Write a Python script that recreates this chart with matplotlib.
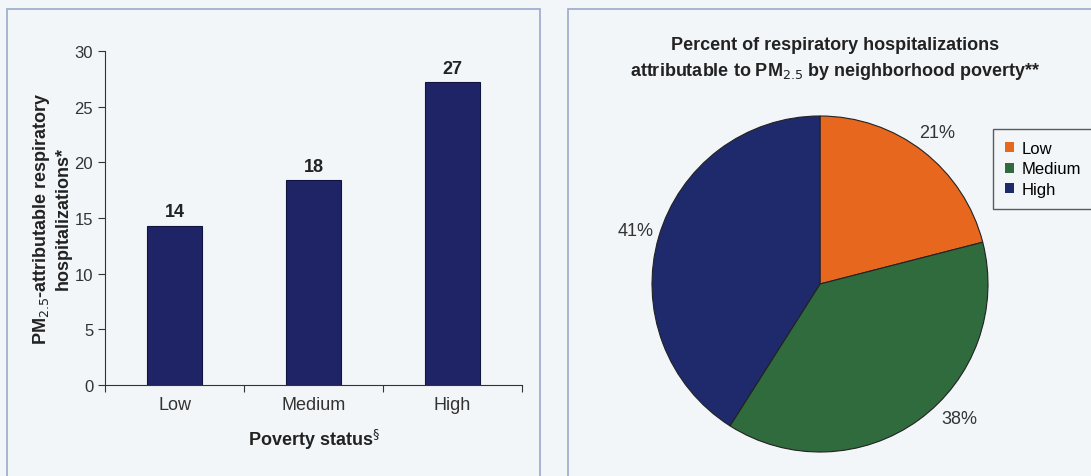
import numpy as np
import matplotlib.pyplot as plt
from matplotlib.patches import Rectangle

plt.rcParams['font.family'] = ['Liberation Sans', 'DejaVu Sans']

# data
categories = ['Low', 'Medium', 'High']
hosp = [14.3, 18.4, 27.2]
hosp_labels = ['14', '18', '27']
pie_share = [21, 38, 41]
pie_colors = ['#e8671e', '#2f6b3c', '#1e2a6b']
bar_color = '#1f2466'

bg = '#f3f6f9'
frame = '#9aa8cc'

fig = plt.figure(figsize=(10.91, 4.77), dpi=100)
fig.patch.set_facecolor(bg)

W, H = 1091, 477
def fx(px):
    return px / W
def fy(py):
    return 1 - py / H

# panel frames
fig.add_artist(Rectangle((fx(7), fy(490)), fx(540) - fx(7), fy(10) - fy(490),
                         transform=fig.transFigure, fill=False, ec=frame, lw=1.2))
fig.add_artist(Rectangle((fx(568), fy(490)), fx(1100) - fx(568), fy(10) - fy(490),
                         transform=fig.transFigure, fill=False, ec=frame, lw=1.2))

# bar chart
ax = fig.add_axes([fx(105), fy(386), fx(522) - fx(105), fy(52) - fy(386)])
ax.set_facecolor('none')
x = range(len(categories))
ax.bar(x, hosp, width=0.4, color=bar_color, edgecolor='#101540', lw=0.8)
for i, v in enumerate(hosp):
    ax.text(i, v + 0.5, hosp_labels[i], ha='center', va='bottom',
            fontsize=13, fontweight='bold', color='#222222')
ax.set_xlim(-0.5, 2.5)
ax.set_ylim(0, 30)
ax.set_yticks(range(0, 31, 5))
ax.tick_params(axis='y', labelsize=12, length=5, direction='out', colors='#333333')
ax.set_xticks([-0.5, 0.5, 1.5, 2.5])
ax.set_xticklabels([])
ax.set_xticks(list(x), minor=True)
ax.set_xticklabels(categories, minor=True)
ax.tick_params(axis='x', which='major', length=5, direction='out', colors='#333333')
ax.tick_params(axis='x', which='minor', length=0, labelsize=13, pad=8, labelcolor='#333333')
ax.spines['top'].set_visible(False)
ax.spines['right'].set_visible(False)
ax.spines['left'].set_color('#333333')
ax.spines['bottom'].set_color('#333333')
ax.set_ylabel('PM$_{2.5}$-attributable respiratory\nhospitalizations*',
              fontsize=13, fontweight='bold', color='#222222', labelpad=2)
ax.set_xlabel('Poverty status$^{\\S}$', fontsize=13, fontweight='bold',
              color='#222222', labelpad=10)

# pie chart
pax = fig.add_axes([fx(652), fy(453), fx(988) - fx(652), fy(117) - fy(453)])
wedges, texts, autotexts = pax.pie(pie_share, colors=pie_colors, startangle=90,
                                   counterclock=False, autopct='%d%%', pctdistance=1.14,
                                   wedgeprops=dict(edgecolor='#222222', linewidth=0.8),
                                   textprops=dict(fontsize=13, color='#333333'))
# the medium label sits a bit higher than the wedge middle
w = wedges[1]
ang = np.deg2rad((w.theta1 + w.theta2) / 2 + 10)
autotexts[1].set_position((1.15 * np.cos(ang), 1.15 * np.sin(ang)))
pax.set_xlim(-1, 1)
pax.set_ylim(-1, 1)
pax.set_aspect('equal')

fig.text(fx(835), fy(45), 'Percent of respiratory hospitalizations',
         ha='center', va='center', fontsize=13, fontweight='bold', color='#222222')
fig.text(fx(835), fy(71), 'attributable to PM$_{2.5}$ by neighborhood poverty**',
         ha='center', va='center', fontsize=13, fontweight='bold', color='#222222')

leg = fig.legend(wedges, categories, loc='upper left',
                 bbox_to_anchor=(fx(993), fy(130)), fontsize=12,
                 frameon=True, fancybox=False, handlelength=0.55, handleheight=0.55,
                 handletextpad=0.45, labelspacing=0.35, borderpad=0.7,
                 borderaxespad=0)
leg.get_frame().set_edgecolor('#333333')
leg.get_frame().set_facecolor(bg)
leg.get_frame().set_linewidth(1.0)
for h in leg.legend_handles:
    h.set_edgecolor('none')

fig.savefig('out.png', dpi=100, facecolor=bg)
